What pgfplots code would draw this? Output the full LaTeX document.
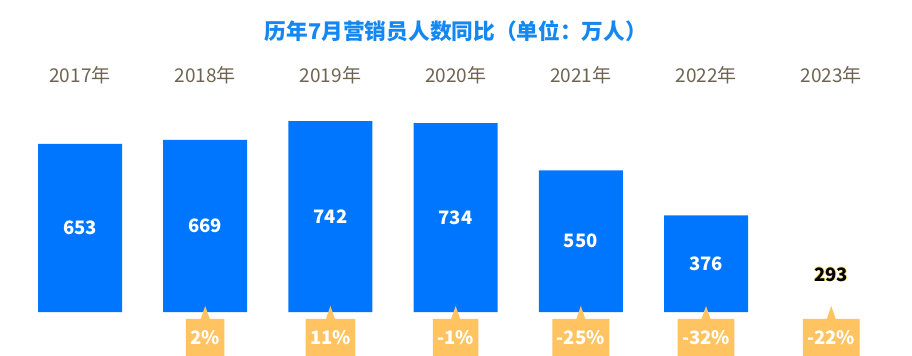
\documentclass[border=0pt]{standalone}
\usepackage{fontspec}
\usepackage{pgfplots}
\pgfplotsset{compat=1.18}
\usepackage{pgfplotstable}
\usetikzlibrary{shapes.callouts}
\setmainfont{Noto Sans CJK SC}
\definecolor{barblue}{HTML}{0076FF}
\definecolor{titleblue}{HTML}{1488F0}
\definecolor{yearc}{HTML}{6F6452}
\definecolor{callc}{HTML}{FFC361}
\definecolor{glowc}{HTML}{FFE27A}
\newcommand\glow[1]{\leavevmode\rlap{\kern0.8bp\textcolor{glowc}{#1}}\rlap{\kern-0.8bp\textcolor{glowc}{#1}}\rlap{\raisebox{0.8bp}{\textcolor{glowc}{#1}}}\rlap{\raisebox{-0.8bp}{\textcolor{glowc}{#1}}}#1}
\pgfplotstableread{
x v
0 653
1 669
2 742
3 734
4 550
5 376
}\bars
\pgfplotstableread{
x y lab
0 921 2017年
1 921 2018年
2 921 2019年
3 921 2020年
4 921 2021年
5 921 2022年
6 921 2023年
}\years
\pgfplotstableread{
x y lab
1 -99 {2\%}
2 -99 {11\%}
3 -99 {-1\%}
4 -99 {-25\%}
5 -99 {-32\%}
6 -99 {-22\%}
}\pcts
\begin{document}
\begin{tikzpicture}
\begin{axis}[name=ax, width=912bp, height=356bp, scale only axis, hide axis, clip=false,
  xmin=-0.639, xmax=6.645, ymin=-171, ymax=1212.6]
\addplot[ybar, bar width=84bp, bar shift=0pt, fill=barblue, draw=none] table[x=x,y=v]{\bars};
\addplot[only marks, mark=none, nodes near coords, point meta=explicit symbolic,
  nodes near coords style={anchor=center, text=white, font=\fontsize{18.5bp}{20bp}\selectfont\bfseries}]
  table[x=x, y expr=\thisrow{v}/2, meta=v]{\bars};
\addplot[only marks, mark=none, nodes near coords={\glow{\pgfplotspointmeta}}, point meta=explicit symbolic,
  nodes near coords style={anchor=center, text=black, font=\fontsize{18.5bp}{20bp}\selectfont\bfseries}]
  coordinates {(6,146.5) [293]};
\addplot[only marks, mark=none, nodes near coords, point meta=explicit symbolic,
  nodes near coords style={anchor=center, text=yearc, font=\fontsize{19bp}{21bp}\selectfont}]
  table[x=x, y=y, meta=lab]{\years};
\addplot[only marks, mark=none, nodes near coords, point meta=explicit symbolic,
  nodes near coords style={anchor=center, shape=rectangle callout, fill=callc, text=white,
    font=\fontsize{18.5bp}{20bp}\selectfont\bfseries, inner xsep=4.5bp, inner ysep=0pt,
    minimum height=37bp, callout relative pointer={(0bp,13bp)}, callout pointer width=9bp}]
  table[x=x, y=y, meta=lab]{\pcts};
\node[font=\fontsize{21.7bp}{23bp}\selectfont\bfseries, text=titleblue] at (axis cs:3.003,1092) {历年7月营销员人数同比（单位：万人）};
\end{axis}
\pgfresetboundingbox
\useasboundingbox (ax.south west) rectangle (ax.north east);
\end{tikzpicture}
\end{document}
